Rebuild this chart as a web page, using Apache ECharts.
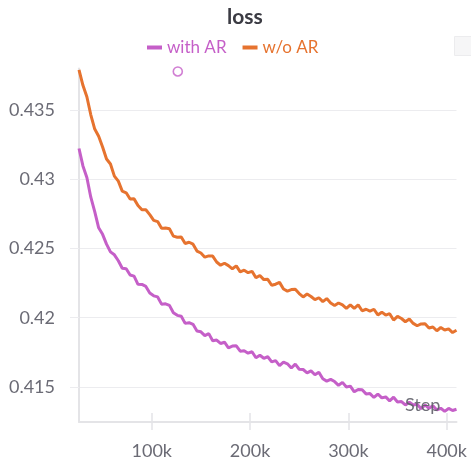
<!DOCTYPE html>
<html>
<head>
<meta charset="utf-8">
<script src="https://cdn.jsdelivr.net/npm/echarts@6/dist/echarts.min.js"></script>
<style>
html,body{margin:0;padding:0;background:#fff;}
#c{width:471px;height:465px;}
</style>
</head>
<body>
<div id="c"></div>
<script>
// Step (in thousands)
var steps = [26,30,34,38,42,46,50,54,58,62,66,70,74,78,82,86,90,94,98,102,106,110,114,118,122,126,130,134,138,142,146,150,154,158,162,166,170,174,178,182,186,190,194,198,202,206,210,214,218,222,226,230,234,238,242,246,250,254,258,262,266,270,274,278,282,286,290,294,298,302,306,310,314,318,322,326,330,334,338,342,346,350,354,358,362,366,370,374,378,382,386,390,394,398,402,406,410];

var withAR = [0.43222,0.43096,0.43012,0.42870,0.42766,0.42649,0.42602,0.42531,0.42475,0.42454,0.42411,0.42357,0.42354,0.42308,0.42300,0.42241,0.42240,0.42226,0.42178,0.42158,0.42150,0.42098,0.42100,0.42089,0.42036,0.42017,0.42011,0.41959,0.41964,0.41952,0.41904,0.41898,0.41871,0.41885,0.41834,0.41839,0.41814,0.41823,0.41783,0.41795,0.41797,0.41758,0.41761,0.41744,0.41754,0.41711,0.41729,0.41707,0.41718,0.41681,0.41690,0.41654,0.41679,0.41667,0.41637,0.41665,0.41628,0.41626,0.41602,0.41616,0.41588,0.41606,0.41559,0.41542,0.41555,0.41539,0.41512,0.41533,0.41500,0.41506,0.41465,0.41482,0.41480,0.41450,0.41452,0.41424,0.41449,0.41421,0.41428,0.41400,0.41426,0.41391,0.41395,0.41370,0.41390,0.41370,0.41375,0.41343,0.41370,0.41346,0.41364,0.41334,0.41346,0.41324,0.41345,0.41330,0.41339];

var woAR = [0.43790,0.43678,0.43595,0.43465,0.43362,0.43310,0.43233,0.43146,0.43110,0.43022,0.42986,0.42914,0.42902,0.42857,0.42858,0.42810,0.42780,0.42779,0.42744,0.42703,0.42694,0.42645,0.42647,0.42642,0.42589,0.42581,0.42583,0.42536,0.42545,0.42531,0.42481,0.42467,0.42437,0.42446,0.42445,0.42402,0.42379,0.42393,0.42376,0.42353,0.42374,0.42331,0.42343,0.42325,0.42335,0.42288,0.42305,0.42275,0.42277,0.42234,0.42242,0.42255,0.42207,0.42192,0.42203,0.42205,0.42174,0.42150,0.42171,0.42153,0.42130,0.42144,0.42116,0.42138,0.42106,0.42088,0.42106,0.42092,0.42067,0.42093,0.42067,0.42092,0.42050,0.42061,0.42048,0.42061,0.42020,0.42040,0.42019,0.42029,0.41983,0.42010,0.41994,0.41971,0.41991,0.41959,0.41942,0.41955,0.41956,0.41926,0.41933,0.41906,0.41929,0.41911,0.41919,0.41893,0.41909];

var hoverPoint = [[126.5, 0.43778]];
var xTickValues = [100, 200, 300, 400];
var yTickValues = [0.415, 0.42, 0.425, 0.43, 0.435];
var seriesNames = ['with AR', 'w/o AR'];
var colors = ['#c55fc8', '#e6732f'];

function pairs(xs, ys) { return xs.map(function (x, i) { return [x, ys[i]]; }); }

var FONT = 'Lato';
var chart = echarts.init(document.getElementById('c'), null, {renderer: 'canvas'});
chart.setOption({
  animation: false,
  backgroundColor: '#ffffff',
  title: {
    text: 'loss', left: 222, top: 2,
    textStyle: {fontFamily: FONT, fontSize: 21, fontWeight: 'bold', color: '#3b3b43'}
  },
  legend: {
    left: 142, top: 34,
    itemWidth: 15, itemHeight: 4, itemGap: 16,
    icon: 'rect',
    textStyle: {fontFamily: FONT, fontSize: 17, color: 'inherit'},
    data: seriesNames
  },
  grid: {left: 79, right: 14.5, top: 68.4, bottom: 43, containLabel: false},
  xAxis: [{
    type: 'value', min: 26, max: 410,
    axisLine: {show: true, lineStyle: {color: '#e4e4e7', width: 2}},
    axisTick: {show: true, length: 8, customValues: xTickValues, lineStyle: {color: '#e4e4e7', width: 1.5}},
    axisLabel: {customValues: xTickValues, margin: 20, fontFamily: FONT, fontSize: 18, color: '#6b6b75',
      formatter: function (v) { return v + 'k'; }},
    splitLine: {show: false}
  }, {
    type: 'value', min: 26, max: 410, position: 'bottom',
    axisLine: {show: false},
    axisTick: {show: true, inside: true, length: 9, customValues: xTickValues, lineStyle: {color: '#e4e4e7', width: 1.5}},
    axisLabel: {show: false},
    splitLine: {show: false}
  }],
  yAxis: {
    type: 'value', min: 0.41247, max: 0.438,
    axisLine: {show: true, lineStyle: {color: '#e4e4e7', width: 2}},
    axisTick: {show: true, length: 9, customValues: yTickValues, lineStyle: {color: '#ececef'}},
    axisLabel: {customValues: yTickValues, margin: 24, fontFamily: FONT, fontSize: 18, color: '#6b6b75',
      formatter: function (v) { return String(+v.toFixed(3)); }},
    splitLine: {show: true, lineStyle: {color: '#ececef', width: 1}}
  },
  series: [{
    name: seriesNames[0], type: 'line', data: pairs(steps, withAR),
    showSymbol: false, color: colors[0], lineStyle: {width: 3, color: colors[0]}
  }, {
    name: seriesNames[1], type: 'line', data: pairs(steps, woAR),
    showSymbol: false, color: colors[1], lineStyle: {width: 3, color: colors[1]}
  }, {
    type: 'scatter', data: hoverPoint, symbol: 'circle', symbolSize: 9,
    itemStyle: {color: '#ffffff', borderColor: colors[0], borderWidth: 1.6}, silent: true, z: 5
  }],
  graphic: [{
    type: 'rect', left: 454, top: 36, shape: {width: 17, height: 19},
    style: {fill: '#f6f6f7', stroke: '#ececee', lineWidth: 1}
  }, {
    type: 'text', left: 405, top: 396, z: 10,
    style: {text: 'Step', fontFamily: FONT, fontSize: 18, fill: 'rgba(95,95,105,0.9)'}
  }]
});
</script>
</body>
</html>
